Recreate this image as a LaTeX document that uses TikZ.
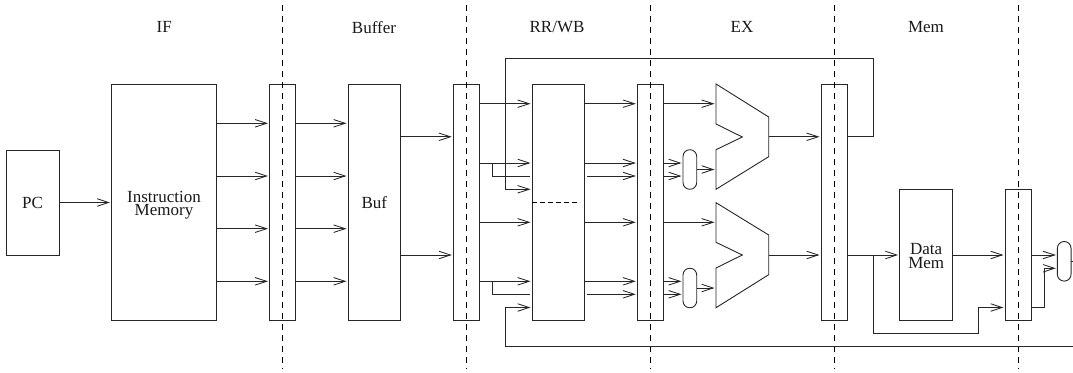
\documentclass[tikz,border=0pt]{standalone}
\usepackage{fontspec}
\setmainfont{Liberation Serif}
\usetikzlibrary{arrows.meta}
\tikzset{
  x=1pt,y=-1pt,
  ln/.style={line width=0.9pt,black!85,line join=miter},
  arr/.style={ln,-{Straight Barb[length=11.5pt,width=7.5pt,line width=0.85pt]},shorten >=1.5pt},
  boxn/.style={draw,ln,rectangle,inner sep=0pt,outer sep=0pt,align=center,font=\fontsize{17}{13.3}\selectfont,text=black!90},
  boxt/.style={inner sep=0pt,outer sep=0pt,align=center,font=\fontsize{17}{13.3}\selectfont,text=black!90},
  sep/.style={line width=0.85pt,black,dash pattern=on 6pt off 5pt},
  pill/.style={draw,ln,rectangle,inner sep=0pt,outer sep=0pt,minimum width=13.7pt,minimum height=39.6pt,rounded corners=6.8pt},
  lbl/.style={font=\fontsize{17}{17}\selectfont,inner sep=0pt,text=black!90},
}
\newcommand{\bx}[6]{\node[boxn,minimum width=#4pt-#3pt,minimum height=#6pt-#5pt] (#1) at ({(#3+#4)/2},{(#5+#6)/2}) {#2};}
\begin{document}
\begin{tikzpicture}
\useasboundingbox (0,0) rectangle (1073,372);
% stage labels
\node[lbl] (lif) at (164.3,27.3) {IF};
\node[lbl] (lbuf) at (374,27.3) {Buffer};
\node[lbl] (lrr) at (557,27.3) {RR/WB};
\node[lbl] (lex) at (742,27.3) {EX};
\node[lbl] (lmem) at (926,27.3) {Mem};
% boxes
\bx{pc}{PC}{6}{59}{150}{255}
\bx{im}{}{111.5}{216.5}{84}{320.7}
\bx{la}{}{269.5}{295.5}{84}{320.7}
\bx{buf}{Buf}{348}{400.5}{84}{320.7}
\bx{lb}{}{453.3}{479.3}{84}{320.7}
\bx{rr}{}{532}{584.7}{84}{320.7}
\bx{lc}{}{637.3}{663.3}{84}{320.7}
\bx{ld}{}{821}{847.7}{84}{320.7}
\bx{dm}{}{899.7}{952.7}{189.3}{320.7}
\bx{le}{}{1005}{1031.7}{189.3}{320.7}
\node[boxt] (imt) at (164,205.5) {Instruction\\Memory};
\node[boxt] (dmt) at (926.2,256) {Data\\Mem};
% pills
\node[pill] (pa) at (689.85,169.5) {};
\node[pill] (pb) at (689.85,288) {};
\node[pill] (pc2) at (1064.2,261.3) {};
% ALUs
\draw[ln] (716,84) -- (768.7,117) -- (768.7,156.7) -- (716,189.3) -- (716,149.7) -- (742.3,137) -- (716,124) -- cycle;
\draw[ln] (716,202.7) -- (768.7,235) -- (768.7,274.7) -- (716,307.7) -- (716,268) -- (742.3,255) -- (716,242.3) -- cycle;
\coordinate (alua) at (716,0);
\coordinate (alub) at (768.7,0);
% dashed separators
\coordinate (st) at (0,5);
\coordinate (sb) at (0,369);
\foreach \n in {la,lb,lc,ld,le}{\draw[sep] (\n.north |- st) -- (\n.south |- sb);}
\coordinate (dl) at (532,202.7);
\coordinate (dr) at (580,202.7);
\draw[line width=0.8pt,black,dash pattern=on 5pt off 3pt] (dl) -- (dr);
% row coordinates
\coordinate (y1) at (0,103.7);
\coordinate (y2) at (0,123.3);
\coordinate (y3) at (0,136.8);
\coordinate (y4) at (0,163);
\coordinate (y5) at (0,176);
\coordinate (y6) at (0,189.3);
\coordinate (y7) at (0,228.7);
\coordinate (y8) at (0,222.3);
\coordinate (y9) at (0,255);
\coordinate (y10) at (0,281.3);
\coordinate (y11) at (0,294.3);
\coordinate (y12) at (0,307.5);
\coordinate (y13) at (0,333.7);
\coordinate (y14) at (0,346.7);
\coordinate (y15) at (0,58);
\coordinate (y16) at (0,268.3);
\coordinate (y17) at (0,202.5);
\coordinate (ya) at (0,176);
% PC / IM / latch A / Buf
\draw[arr] (pc.east |- y17) -- (im.west |- y17);
\foreach \y in {y2,ya,y7,y10}{
  \draw[arr] (im.east |- \y) -- (la.west |- \y);
  \draw[arr] (la.east |- \y) -- (buf.west |- \y);
}
\draw[arr] (buf.east |- y3) -- (lb.west |- y3);
\draw[arr] (buf.east |- y9) -- (lb.west |- y9);
% latch B to RR
\foreach \y in {y1,y4,y8,y10}{\draw[arr] (lb.east |- \y) -- (rr.west |- \y);}
\coordinate (bx1) at (492.7,0);
\coordinate (fx) at (505.7,0);
\coordinate (rrw) at (530,0);
\draw[ln] (bx1 |- y4) -- (bx1 |- y5) -- (rrw |- y5);
\draw[ln] (bx1 |- y10) -- (bx1 |- y11) -- (rrw |- y11);
% RR to latch C
\foreach \y in {y1,y4,y8,y10}{\draw[arr] (rr.east |- \y) -- (lc.west |- \y);}
\coordinate (rre) at (587,0);
\draw[arr] (rre |- y5) -- (lc.west |- y5);
\draw[arr] (rre |- y11) -- (lc.west |- y11);
% latch C to ALU and pills
\draw[arr] (lc.east |- y1) -- (alua |- y1);
\draw[arr] (lc.east |- y8) -- (alua |- y8);
\foreach \y in {y4,y5}{\draw[arr] (lc.east |- \y) -- (pa.west |- \y);}
\foreach \y in {y10,y11}{\draw[arr] (lc.east |- \y) -- (pb.west |- \y);}
\draw[arr] (pa.east) -- (alua |- pa.east);
\draw[arr] (pb.east) -- (alua |- pb.east);
% ALU to latch D
\draw[arr] (alub |- y3) -- (ld.west |- y3);
\draw[arr] (alub |- y9) -- (ld.west |- y9);
% forwarding paths
\coordinate (tx) at (873.7,0);
\draw[arr] (ld.east |- y3) -- (tx |- y3) -- (tx |- y15) -- (fx |- y15) -- (fx |- y6) -- (rr.west |- y6);
\coordinate (rt) at (1073,0);
\draw[arr] (rt |- y14) -- (fx |- y14) -- (fx |- y12) -- (rr.west |- y12);
% memory stage
\draw[arr] (ld.east |- y9) -- (dm.west |- y9);
\draw[arr] (dm.east |- y9) -- (le.west |- y9);
\coordinate (mx) at (873.3,0);
\coordinate (my) at (978.7,0);
\draw[arr] (mx |- y9) -- (mx |- y13) -- (my |- y13) -- (my |- y12) -- (le.west |- y12);
\draw[arr] (le.east |- y9) -- (pc2.west |- y9);
\coordinate (ex) at (1044.3,0);
\draw[arr] (le.east |- y12) -- (ex |- y12) -- (ex |- y16) -- (pc2.west |- y16);
\draw[ln] (pc2.east) -- (rt |- pc2.east);
\end{tikzpicture}
\end{document}
